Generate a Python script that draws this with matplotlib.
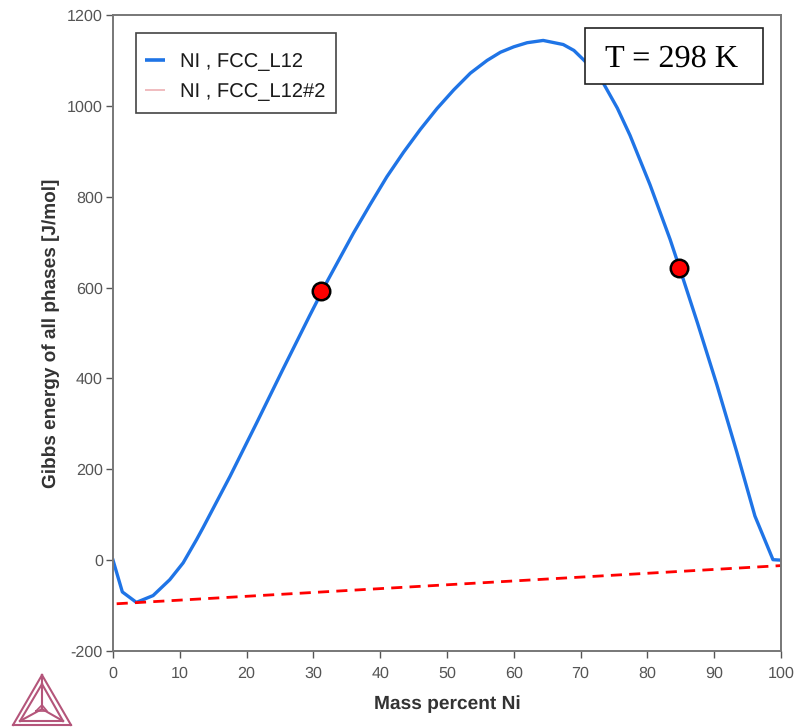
import matplotlib
matplotlib.use("Agg")
import matplotlib.pyplot as plt
from matplotlib.lines import Line2D
from matplotlib.patches import Rectangle

W, H = 796, 728
ni_mass = [0, 1.4, 3.5, 6, 8.5, 10.5, 12.5, 13.5, 17.5, 21.5, 25.4, 29.4, 32, 36, 38.5, 41, 43.5, 46, 48.5, 51, 53.5, 56, 58, 60, 62, 64.4, 67.4, 69, 70.4, 72, 73.4, 75.5, 77.4, 80.4, 83.4, 84.8, 87.5, 90.4, 93.4, 96.1, 98.8, 100]
g_main = [0, -70, -93, -78, -43, -6, 45, 72, 184, 302, 419, 537, 612, 720, 783, 844, 898, 948, 994, 1035, 1072, 1100, 1118, 1130, 1139, 1144, 1135, 1122, 1102, 1078, 1050, 995, 935, 826, 706, 644, 522, 386, 237, 97, 1, 0]
ni_tangent = [0.55, 100]
g_tangent = [-96, -12]
ni_points = [31.2, 84.8]
g_points = [593, 644]
x_ticks = list(range(0, 101, 10))
y_ticks = list(range(-200, 1201, 200))
series_labels = ["NI , FCC_L12", "NI , FCC_L12#2"]
annotation = "T = 298 K"
x_label = "Mass percent Ni"
y_label = "Gibbs energy of all phases [J/mol]"

plt.rcParams["font.family"] = ["Liberation Sans", "DejaVu Sans"]
plt.rcParams["axes.unicode_minus"] = False
plt.rcParams["text.hinting"] = "none"
fig = plt.figure(figsize=(W / 100, H / 100), dpi=100)
AX_L, AX_R, AX_T, AX_B = 113, 781, 15, 651
ax = fig.add_axes([AX_L / W, 1 - AX_B / H, (AX_R - AX_L) / W, (AX_B - AX_T) / H])


def axfrac(px, py):
    return (px - AX_L) / (AX_R - AX_L), (AX_B - py) / (AX_B - AX_T)


BLUE = "#1f74e6"
ax.plot(ni_mass, g_main, color=BLUE, lw=2.4, solid_joinstyle="round")
ax.plot(ni_tangent, g_tangent, color="#ff0000", lw=2.0, dashes=(4.0, 2.6))
ax.plot(ni_points, g_points, "o", ms=12.6, mfc="#ff0000", mec="black", mew=1.8, zorder=5)
ax.set_xlim(0, 100)
ax.set_ylim(-200, 1200)
ax.set_xticks(x_ticks)
ax.set_yticks(y_ticks)
ax.tick_params(length=5.3, width=1, color="#555555", labelcolor="#555555", labelsize=11.6)
ax.tick_params(axis="x", pad=6)
ax.tick_params(axis="y", pad=2)
for s in ax.spines.values():
    s.set_color("#777777")
    s.set_linewidth(1.4)
ax.set_xlabel(x_label, fontsize=13.8, fontweight="bold", color="#333333")
ax.set_ylabel(y_label, fontsize=13.7, fontweight="bold", color="#333333")
ax.xaxis.set_label_coords(0.5, axfrac(0, 695)[1])
ax.yaxis.set_label_coords(axfrac(60, 0)[0], 0.5)

# Legend box spans fixed area; the legend holds handles and texts
x0, y0 = axfrac(136, 113)
x1, y1 = axfrac(336, 33)
ax.add_patch(Rectangle((x0, y0), x1 - x0, y1 - y0, transform=ax.transAxes, fc="white", ec="#444444", lw=1.2, zorder=4))
handles = [Line2D([], [], color=BLUE, lw=2.6, solid_capstyle="butt"),
           Line2D([], [], color="#eeb0b4", lw=1.2, solid_capstyle="butt")]
leg = ax.legend(handles, series_labels, loc="upper left", bbox_to_anchor=axfrac(136, 43),
                borderaxespad=0, fontsize=14.5, frameon=False,
                handlelength=1.0, handletextpad=0.75, labelspacing=0.6, borderpad=0.45)
for t in leg.get_texts():
    t.set_color("#1a1a1a")

# Temperature box, sits above the curve
ov = fig.add_axes([0, 0, 1, 1], facecolor="none")
ov.set_xlim(0, W)
ov.set_ylim(H, 0)
ov.axis("off")
ov.fill([585, 763, 763, 585], [28, 28, 84, 84], fc="white", ec="#222222", lw=1.2, zorder=6)
ov.text(671.5, 59, annotation, ha="center", va="center", fontsize=23.2, family="Liberation Serif", color="black", zorder=7)

# Logo
logo = "#b4557a"
apex, left, right, centre = (42, 675), (13, 725), (71, 725), (42, 709)
inner = [(42, 684), (20, 721), (63, 721)]
for a, b in [(apex, left), (left, right), (right, apex), (inner[0], inner[1]), (inner[1], inner[2]), (inner[2], inner[0]),
             (apex, centre), (inner[1], centre), (inner[2], centre)]:
    ov.plot([a[0], b[0]], [a[1], b[1]], color=logo, lw=1.5, clip_on=False)
ov.plot([36, 47, 42, 36], [711, 711, 705, 711], color=logo, lw=1.2)

fig.savefig("out.png", dpi=100)
